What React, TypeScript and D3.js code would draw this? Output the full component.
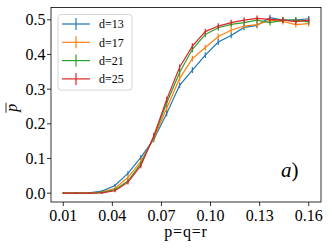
import * as d3 from "d3";
import { useEffect } from "react";

// x grid: 20 values from 0.01 to 0.16
const xs = [
  0.01, 0.0179, 0.0258, 0.0337, 0.0416, 0.0495, 0.0574, 0.0653, 0.0732, 0.0811,
  0.0889, 0.0968, 0.1047, 0.1126, 0.1205, 0.1284, 0.1363, 0.1442, 0.1521, 0.16,
];

const d13 = [
  0.0, 0.0, 0.001, 0.006, 0.022, 0.057, 0.103, 0.155, 0.23, 0.311,
  0.355, 0.398, 0.436, 0.455, 0.478, 0.484, 0.506, 0.499, 0.499, 0.503,
];
const d17 = [
  0.0, 0.0, 0.0, 0.003, 0.014, 0.045, 0.092, 0.158, 0.245, 0.331,
  0.388, 0.42, 0.452, 0.47, 0.482, 0.486, 0.499, 0.495, 0.486, 0.489,
];
const d21 = [
  0.0, 0.0, 0.0, 0.002, 0.01, 0.035, 0.085, 0.162, 0.26, 0.348,
  0.415, 0.458, 0.477, 0.487, 0.492, 0.499, 0.492, 0.499, 0.499, 0.494,
];
const d25 = [
  0.0, 0.0, 0.0, 0.001, 0.007, 0.031, 0.079, 0.165, 0.27, 0.363,
  0.424, 0.466, 0.482, 0.492, 0.499, 0.504, 0.501, 0.499, 0.495, 0.499,
];
// rough error bar half-heights
const errs = [
  0, 0, 0, 0.001, 0.002, 0.004, 0.005, 0.006, 0.006, 0.006,
  0.006, 0.006, 0.006, 0.006, 0.006, 0.006, 0.006, 0.006, 0.006, 0.006,
];

const seriesNames = ["d=13", "d=17", "d=21", "d=25"];
const seriesValues = [d13, d17, d21, d25];
const colors = ["#1f77b4", "#ff7f0e", "#2ca02c", "#d62728"];

const xTicks = [0.01, 0.04, 0.07, 0.1, 0.13, 0.16];
const yTicks = [0.0, 0.1, 0.2, 0.3, 0.4, 0.5];

const W = 332;
const H = 249;
const margin = { top: 7.5, right: 11, bottom: 47, left: 51 };
const font = "'Liberation Serif', 'DejaVu Serif', serif";

export default function App() {
  useEffect(() => {
    document.body.style.margin = "0";
  }, []);

  const x = d3
    .scaleLinear()
    .domain([0.0025, 0.1675])
    .range([margin.left, W - margin.right]);
  const y = d3
    .scaleLinear()
    .domain([-0.0255, 0.5355])
    .range([H - margin.bottom, margin.top]);

  const line = d3
    .line<number>()
    .x((_, i) => x(xs[i]))
    .y((d) => y(d));

  const left = margin.left;
  const right = W - margin.right;
  const top = margin.top;
  const bottom = H - margin.bottom;

  return (
    <svg width={W} height={H} style={{ display: "block" }} fontFamily={font}>
      <rect width={W} height={H} fill="#fff" />

      {/* series */}
      {seriesValues.map((vals, k) => (
        <g key={seriesNames[k]}>
          <path d={line(vals) ?? ""} fill="none" stroke={colors[k]} strokeWidth={1.2} />
          {vals.map((v, i) => (
            <line
              key={i}
              x1={x(xs[i])}
              x2={x(xs[i])}
              y1={y(v - errs[i]) + 0.8}
              y2={y(v + errs[i]) - 0.8}
              stroke={colors[k]}
              strokeWidth={1.2}
            />
          ))}
        </g>
      ))}

      {/* frame */}
      <rect
        x={left}
        y={top}
        width={right - left}
        height={bottom - top}
        fill="none"
        stroke="#000"
        strokeWidth={0.8}
      />

      {/* x ticks */}
      {xTicks.map((t) => (
        <g key={t}>
          <line x1={x(t)} x2={x(t)} y1={bottom} y2={bottom + 4} stroke="#000" strokeWidth={0.8} />
          <text x={x(t)} y={221} textAnchor="middle" fontSize={16}>
            {d3.format(".2f")(t)}
          </text>
        </g>
      ))}

      {/* y ticks */}
      {yTicks.map((t) => (
        <g key={t}>
          <line x1={left - 4} x2={left} y1={y(t)} y2={y(t)} stroke="#000" strokeWidth={0.8} />
          <text x={left - 5.5} y={y(t)} dy="0.35em" textAnchor="end" fontSize={16}>
            {d3.format(".1f")(t)}
          </text>
        </g>
      ))}

      {/* axis labels */}
      <text x={(left + right) / 2} y={237} textAnchor="middle" fontSize={16} letterSpacing={0.8}>
        p=q=r
      </text>
      <g transform={`translate(17, ${(top + bottom) / 2 + 3}) rotate(-90)`}>
        <text x={0} y={0} textAnchor="middle" fontSize={16} fontStyle="italic">
          p
        </text>
        <line x1={-5} x2={5} y1={-11} y2={-11} stroke="#000" strokeWidth={0.8} />
      </g>

      {/* panel annotation */}
      <text x={281} y={177} fontSize={21}>
        <tspan fontStyle="italic">a</tspan>
        <tspan>)</tspan>
      </text>

      {/* legend */}
      <rect
        x={58}
        y={14.5}
        width={74}
        height={75.5}
        rx={3}
        fill="#fff"
        fillOpacity={0.8}
        stroke="#cccccc"
        strokeWidth={0.8}
      />
      {seriesNames.map((name, k) => {
        const ly = 24 + k * 18.3;
        return (
          <g key={name}>
            <line x1={62} x2={90} y1={ly} y2={ly} stroke={colors[k]} strokeWidth={1.2} />
            <line x1={76} x2={76} y1={ly - 6} y2={ly + 6} stroke={colors[k]} strokeWidth={1.2} />
            <text x={99} y={ly} dy="0.35em" fontSize={12}>
              {name}
            </text>
          </g>
        );
      })}
    </svg>
  );
}
